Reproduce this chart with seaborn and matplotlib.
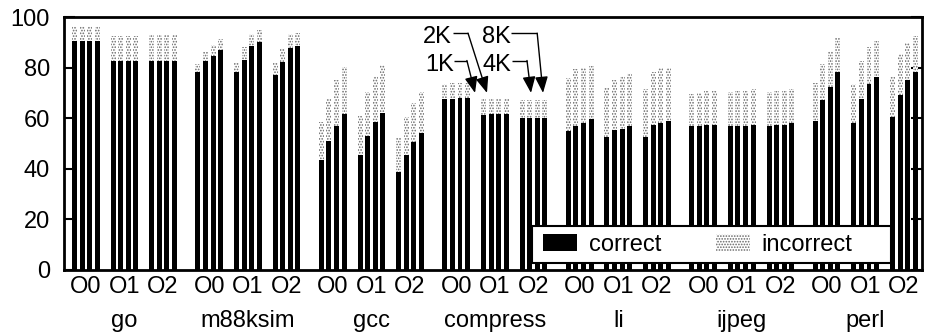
import matplotlib
matplotlib.use("Agg")
import matplotlib.pyplot as plt
from matplotlib.patches import Patch, Rectangle
import matplotlib.transforms as mtransforms
import numpy as np
import pandas as pd
import seaborn as sns

benchmarks = ["go", "m88ksim", "gcc", "compress", "li", "ijpeg", "perl"]
opt_levels = ["O0", "O1", "O2"]
cache_sizes = ["1K", "2K", "4K", "8K"]

# correct-prediction percentage, per opt level (O0, O1, O2), per cache size (1K, 2K, 4K, 8K)
go_correct = [[90.6, 90.6, 90.6, 90.6], [82.6, 82.6, 82.6, 82.6], [82.6, 82.6, 82.6, 82.6]]
go_incorrect = [[5.8, 5.8, 5.8, 5.8], [9.9, 9.9, 9.9, 9.9], [10.2, 10.2, 10.2, 10.2]]

m88ksim_correct = [[78.4, 82.6, 84.7, 86.8], [78.4, 83.0, 88.5, 90.1], [77.1, 82.1, 87.9, 88.4]]
m88ksim_incorrect = [[2.9, 3.7, 4.2, 4.4], [3.9, 5.3, 4.8, 4.8], [5.2, 5.5, 5.5, 5.4]]

gcc_correct = [[43.3, 50.9, 56.8, 61.7], [45.6, 53.1, 58.4, 62.1], [38.6, 45.6, 50.5, 54.0]]
gcc_incorrect = [[15.1, 16.8, 18.3, 18.7], [15.4, 17.1, 18.3, 18.9], [13.8, 15.0, 15.6, 16.2]]

compress_correct = [[67.6, 67.6, 68.1, 68.1], [61.1, 61.7, 61.7, 61.7], [60.1, 60.1, 60.1, 60.1]]
compress_incorrect = [[5.9, 6.2, 5.9, 5.9], [6.6, 6.0, 6.0, 6.0], [7.1, 7.1, 7.1, 7.1]]

li_correct = [[55.1, 56.9, 58.0, 59.6], [52.4, 55.2, 55.6, 56.8], [52.4, 57.4, 58.0, 58.9]]
li_incorrect = [[20.9, 22.5, 22.0, 21.2], [19.5, 19.9, 21.1, 20.9], [19.0, 21.0, 22.0, 21.1]]

ijpeg_correct = [[56.8, 56.8, 57.4, 57.4], [56.8, 56.8, 56.8, 57.4], [56.8, 57.2, 57.2, 58.0]]
ijpeg_incorrect = [[12.8, 13.3, 13.5, 13.5], [13.4, 13.8, 13.8, 14.0], [13.6, 13.6, 13.6, 13.4]]

perl_correct = [[59.0, 67.1, 72.5, 78.4], [58.0, 67.6, 73.4, 76.2], [60.6, 69.2, 75.1, 78.4]]
perl_incorrect = [[15.0, 14.2, 14.2, 13.4], [15.5, 15.0, 14.9, 14.4], [15.6, 16.0, 14.7, 14.2]]

legend_labels = ["correct", "incorrect"]

correct_all = [go_correct, m88ksim_correct, gcc_correct, compress_correct,
               li_correct, ijpeg_correct, perl_correct]
incorrect_all = [go_incorrect, m88ksim_incorrect, gcc_incorrect, compress_incorrect,
                 li_incorrect, ijpeg_incorrect, perl_incorrect]

# layout: slot spacing
BENCH_STEP = 16.33
OPT_STEP = 5.11

rows = []
for b, name in enumerate(benchmarks):
    for o, opt in enumerate(opt_levels):
        for k, cs in enumerate(cache_sizes):
            c = correct_all[b][o][k]
            i = incorrect_all[b][o][k]
            rows.append(dict(bench=name, opt=opt, cache=cs,
                             x=round(b * BENCH_STEP + o * OPT_STEP + k, 3),
                             correct=c, total=c + i))
df = pd.DataFrame(rows)

sns.set_theme(style="white")
plt.rcParams['font.family'] = ['Liberation Sans', 'DejaVu Sans']
plt.rcParams['hatch.linewidth'] = 0.8

FS = 17
W, H = 928, 335
fig = plt.figure(figsize=(W / 100, H / 100), dpi=100)
ax = fig.add_axes([64 / W, 1 - 270 / H, (922 - 64) / W, (270 - 17) / H])

HATCH_COLOR = "#666666"
sns.barplot(data=df, x="x", y="total", native_scale=True, width=0.66,
            color="white", saturation=1, errorbar=None, ax=ax, linewidth=0)
for p in ax.patches:
    p.set_hatch("......")
    p.set_edgecolor(HATCH_COLOR)
    p.set_linewidth(0)
sns.barplot(data=df, x="x", y="correct", native_scale=True, width=0.66,
            color="black", saturation=1, errorbar=None, ax=ax, linewidth=0)

ax.set_xlim(-1.39, 112.1)
ax.set_ylim(0, 100)
ax.set_yticks(np.arange(0, 101, 20))
ax.tick_params(axis='y', direction='in', length=8, width=1.5, left=True, right=True,
               labelsize=FS, pad=10, colors='black')

centers = [b * BENCH_STEP + o * OPT_STEP + 1.5 for b in range(len(benchmarks)) for o in range(len(opt_levels))]
ax.set_xticks(centers)
ax.set_xticklabels(opt_levels * len(benchmarks))
ax.tick_params(axis='x', length=0, labelsize=FS, pad=4, colors='black')
ax.set_xlabel("")
ax.set_ylabel("")

for s in ax.spines.values():
    s.set_visible(True)
    s.set_color("black")
    s.set_linewidth(2)

trans = mtransforms.blended_transform_factory(ax.transData, ax.transAxes)
for b, name in enumerate(benchmarks):
    ax.text(b * BENCH_STEP + OPT_STEP + 1.5, -0.225, name, transform=trans,
            ha='center', va='baseline', fontsize=FS, color='black')

# annotations for cache sizes
ann = [  # label, text_x, text_y, line_end_x, tip_x
    ("2K", 46.1, 92.0, 52.05, 54.56),
    ("1K", 46.36, 81.2, 51.9, 52.98),
    ("8K", 53.9, 92.0, 61.2, 61.97),
    ("4K", 54.03, 81.2, 59.85, 60.38),
]
for lab, tx, ty, cx, tipx in ann:
    ax.text(tx, ty, lab, ha='left', va='center', fontsize=FS, color='black')
    start = tx + 3.9
    ly = ty + 1.6
    ax.plot([start, cx], [ly, ly], color='black', lw=1, solid_capstyle='butt')
    ax.annotate("", xy=(tipx, 70.0), xytext=(cx, ly),
                arrowprops=dict(arrowstyle='-|>,head_length=0.7,head_width=0.28',
                                color='black', lw=1, shrinkA=0, shrinkB=0,
                                mutation_scale=14))

# legend box (frame drawn separately to match the reference's width)
ax.add_patch(Rectangle((0.5455, 0.0289), 0.9639 - 0.5455, 0.1739 - 0.0289,
                       transform=ax.transAxes, facecolor='white', edgecolor='black',
                       linewidth=1.5, zorder=4.9, clip_on=False))
handles = [Patch(facecolor='black', edgecolor='black', linewidth=0),
           Patch(facecolor='white', edgecolor=HATCH_COLOR, hatch='......', linewidth=0)]
leg = ax.legend(handles, legend_labels, loc='lower left', bbox_to_anchor=(0.5501, 0.029),
                borderaxespad=0, ncol=2, fontsize=FS, frameon=False,
                handlelength=1.44, handleheight=0.76,
                columnspacing=2.3, borderpad=0.3, handletextpad=0.5)
leg.set_zorder(5)
for txt in leg.get_texts():
    txt.set_color('black')

fig.savefig("out.png", dpi=100)
